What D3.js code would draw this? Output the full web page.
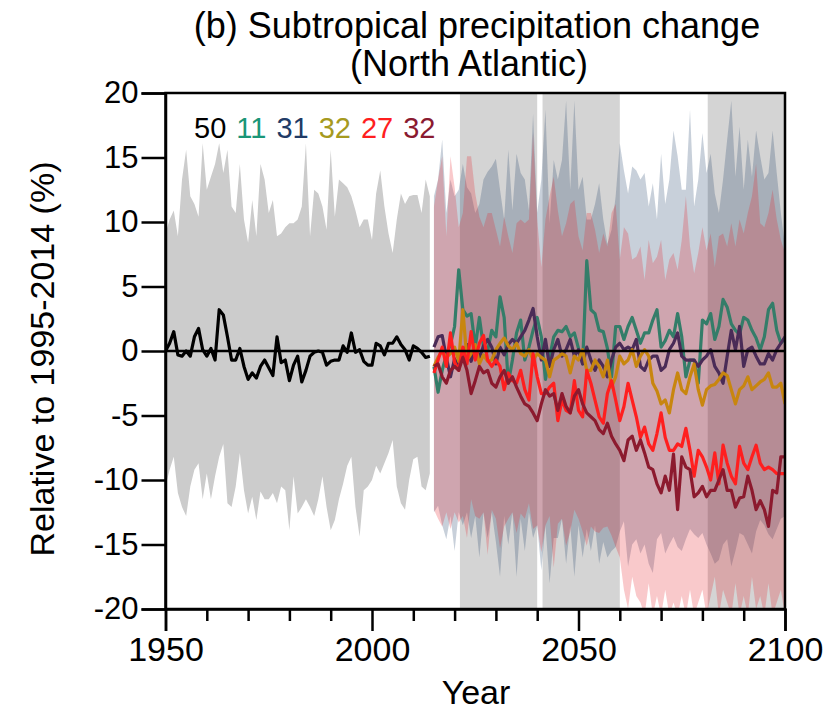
<!DOCTYPE html>
<html><head><meta charset="utf-8">
<script src="https://cdn.jsdelivr.net/npm/d3@7"></script>
<style>
body{margin:0;background:#fff}
text{font-family:"Liberation Sans",Arial,Helvetica,sans-serif}
</style>
</head><body>
<svg id="c" width="839" height="712"></svg>
<script>
const histYears = d3.range(1950, 2015);
const futYears = d3.range(2015, 2101);

const histMean = [0.0,0.6,1.5,-0.3,-0.4,0.0,-0.4,1.1,1.75,0.1,
 -0.4,0.2,-0.7,3.2,2.8,1.1,-0.7,-0.7,0.2,-1.2,
 -2.2,-1.7,-2.1,-1.2,-0.7,-1.3,-1.9,1.1,-0.9,-0.7,
 -2.3,-1.1,-0.4,-2.4,-1.5,-0.4,-0.1,0.0,-0.1,-1.1,
 -0.8,-0.7,-0.7,0.4,-0.1,1.4,-0.1,0.1,-0.8,-1.1,
 -1.1,0.6,0.4,-0.3,0.6,0.6,1.1,0.5,0.1,-0.7,
 0.4,0.2,-0.1,-0.5,-0.4];
const histUpper = [9.1,10.2,10.9,8.9,13.3,15.6,12.0,11.4,10.4,16.1,
 12.5,13.5,14.5,16.1,13.8,15.6,11.2,10.7,14.5,10.2,
 8.4,11.7,8.9,14.5,13.3,10.7,11.7,8.9,9.1,9.6,
 9.9,9.9,10.2,11.2,16.1,8.9,12.5,12.2,11.2,9.4,
 15.6,10.4,13.3,13.0,12.7,12.0,10.9,9.6,10.2,10.2,
 8.6,12.2,14.0,11.2,9.1,7.6,10.2,12.2,11.4,12.0,
 12.1,12.1,10.7,13.3,12.0];
const histLower = [-10.5,-9.2,-8.2,-11.0,-12.1,-12.8,-10.5,-9.2,-8.7,-11.5,
 -9.5,-11.5,-9.7,-8.2,-7.2,-11.8,-12.1,-10.5,-7.9,-10.8,
 -12.6,-11.3,-13.1,-10.9,-11.5,-11.5,-11.0,-11.8,-10.5,-10.8,
 -13.9,-9.7,-12.6,-12.1,-11.5,-12.1,-12.8,-11.5,-9.7,-12.1,
 -13.9,-13.1,-11.5,-10.3,-8.9,-8.2,-12.1,-14.4,-10.8,-10.5,
 -10.0,-8.9,-9.5,-8.7,-7.9,-6.9,-10.5,-11.8,-12.3,-10.0,
 -8.4,-8.2,-10.5,-10.8,-9.5];

const ssp126Upper = [12.0,13.3,16.4,10.7,13.3,12.0,12.5,14.5,12.7,12.2,
 10.7,11.4,13.3,13.9,14.3,14.9,12.5,10.2,15.6,10.9,
 15.3,13.8,13.3,10.9,18.4,10.7,13.3,18.7,9.9,14.8,
 13.3,14.8,19.4,12.5,19.4,12.5,13.5,10.2,10.2,11.4,
 13.0,10.2,8.3,9.4,12.0,16.1,14.0,12.2,14.3,14.0,
 13.3,13.8,11.2,13.0,10.2,15.3,11.4,13.3,17.1,15.1,
 12.5,12.5,18.7,11.2,13.3,16.9,13.8,15.3,12.2,10.7,
 13.3,16.4,19.4,13.5,17.4,12.5,16.4,13.5,17.1,15.1,
 13.3,13.8,17.1,13.8,10.7,8.1];
const ssp126Lower = [-12.5,-12.0,-13.5,-14.6,-12.8,-15.5,-12.5,-13.5,-12.5,-14.5,
 -12.8,-16.0,-12.5,-14.5,-12.5,-14.8,-17.5,-12.8,-15.0,-12.5,
 -17.5,-13.0,-15.5,-12.5,-14.5,-13.5,-17.0,-13.5,-18.0,-14.5,
 -14.5,-13.0,-16.5,-13.5,-17.5,-13.5,-16.0,-13.8,-15.5,-13.5,
 -16.5,-14.8,-16.0,-15.5,-15.2,-14.0,-13.2,-16.7,-15.0,-14.6,
 -15.7,-15.0,-16.5,-17.2,-14.6,-14.1,-15.7,-15.0,-14.4,-15.2,
 -15.5,-14.6,-13.8,-14.2,-14.5,-14.1,-15.0,-15.7,-16.5,-16.2,
 -15.0,-14.6,-16.7,-15.5,-14.1,-14.3,-15.0,-15.7,-14.0,-13.1,
 -13.5,-14.2,-14.6,-13.8,-13.0,-12.8];
const ssp370Upper = [11.2,13.3,15.1,8.9,15.1,12.7,9.6,10.7,15.1,15.1,
 12.2,10.4,9.6,10.7,10.7,9.4,8.1,10.4,8.9,7.6,
 9.9,10.2,9.9,10.2,16.9,10.2,6.5,10.2,12.0,13.5,
 10.9,8.9,9.9,11.4,11.7,8.9,7.8,10.7,10.7,9.4,
 7.6,9.1,8.1,10.7,11.4,7.1,9.6,9.1,7.1,7.3,
 8.1,5.5,8.6,6.8,7.3,8.6,5.5,7.1,7.6,6.3,
 8.6,12.0,8.1,6.0,7.6,9.6,7.8,9.1,6.5,8.9,
 9.1,8.1,9.9,8.1,10.2,9.1,10.7,12.0,14.5,9.9,
 9.6,10.7,12.5,10.2,8.6,7.6];
const ssp370Lower = [-12.3,-13.0,-13.6,-12.5,-13.8,-12.5,-13.3,-12.8,-14.5,-11.5,
 -12.8,-13.0,-12.5,-15.8,-12.3,-13.0,-15.3,-13.6,-13.0,-12.5,
 -14.1,-12.6,-13.0,-11.8,-13.8,-13.5,-15.6,-13.5,-12.8,-16.8,
 -13.4,-13.0,-15.1,-14.0,-12.3,-13.0,-14.0,-15.1,-13.6,-14.0,
 -14.1,-13.7,-13.6,-14.3,-15.2,-16.0,-18.5,-20.0,-17.5,-19.0,
 -19.5,-20.5,-18.0,-20.5,-19.0,-20.5,-18.5,-20.5,-19.5,-20.5,
 -19.0,-20.5,-18.5,-20.5,-19.5,-18.5,-20.5,-19.0,-17.5,-20.5,
 -18.5,-19.5,-20.5,-18.0,-20.5,-19.0,-20.5,-17.5,-20.0,-19.0,
 -20.5,-18.0,-20.5,-19.5,-18.5,-20.5];

const ssp119 = [-1.2,-3.2,-1.5,-0.3,0.5,1.9,6.3,3.2,2.7,2.9,
 0.3,2.6,0.3,0.0,1.6,1.1,4.2,2.6,-2.5,-0.7,
 1.4,2.4,-0.7,0.3,1.6,2.6,1.1,-2.2,-0.5,1.1,
 1.6,1.5,1.9,1.1,1.4,0.2,-1.0,7.0,3.2,2.9,
 1.6,1.5,0.2,-2.0,1.9,1.9,0.9,1.9,2.6,1.6,
 0.6,1.4,1.4,2.4,3.2,0.3,0.8,1.6,1.1,2.9,
 1.1,-2.0,-0.7,-0.7,-2.5,2.4,2.1,2.9,0.9,1.9,
 4.0,3.4,2.1,1.6,1.3,2.6,2.4,1.6,1.0,0.1,
 1.1,3.2,3.7,1.6,0.6,1.0];
const ssp126 = [0.3,1.1,1.2,-0.5,-2.0,-0.6,-1.2,-0.3,0.5,-0.8,
 0.2,-0.5,0.4,0.9,0.3,-1.0,0.3,-0.3,0.5,0.9,
 0.6,1.1,1.6,2.4,3.3,1.1,-0.7,0.9,-1.2,0.1,
 0.9,-0.4,0.1,0.9,-0.4,0.1,-1.0,0.3,-0.7,-1.5,
 -0.7,-1.2,-2.0,-0.7,0.3,0.6,0.1,0.3,0.1,0.9,
 -1.2,-1.5,-0.7,-0.4,-0.4,-1.5,-1.2,0.1,0.6,1.4,
 -0.4,-0.7,-0.7,-0.7,-1.2,-0.7,-0.4,0.1,-1.2,-1.7,
 -2.5,-0.4,1.6,0.1,1.9,-1.2,0.1,0.3,-0.4,-1.0,
 -1.0,-0.2,-0.7,0.1,0.6,1.1];
const ssp245 = [-1.2,-0.5,0.0,-0.5,-0.2,0.3,-0.8,3.2,-0.7,-0.2,
 0.5,-1.0,-0.3,-0.8,-0.7,0.1,0.6,1.0,0.4,0.1,
 0.6,-0.2,-0.4,0.1,-0.7,-0.2,-0.5,-0.7,-2.0,-0.7,
 -0.5,-0.2,-0.4,-1.7,-0.4,-0.7,0.1,-1.5,-1.5,-0.7,
 -1.2,-2.0,-0.7,-2.8,-2.0,-0.4,-1.0,-0.7,0.1,-1.2,
 -0.4,0.1,-0.4,-2.5,-3.1,-4.1,-3.8,-4.8,-3.0,-1.7,
 -3.0,-3.3,-2.0,-1.0,-3.0,-4.2,-3.0,-2.7,-2.6,-2.2,
 -1.7,-1.9,-3.0,-4.1,-3.0,-2.7,-2.0,-3.0,-2.7,-2.4,
 -2.2,-1.7,-2.8,-2.8,-2.5,-4.1];
const ssp370 = [-1.7,-0.7,0.3,-1.2,1.4,-0.9,-1.5,0.3,-1.0,1.5,
 -0.7,0.6,1.2,-0.7,-1.2,-0.7,-1.2,-3.0,-1.7,-2.3,
 -2.5,-1.5,-3.0,-3.8,-0.2,-2.0,-3.3,-3.3,-2.8,-2.5,
 -5.4,-3.8,-4.6,-4.8,-2.3,-4.6,-5.1,-1.5,-2.5,-3.8,
 -5.1,-5.6,-3.3,-2.3,-3.8,-5.4,-4.3,-2.5,-3.8,-5.1,
 -6.7,-5.9,-7.2,-7.7,-6.4,-4.8,-6.7,-7.7,-7.7,-7.2,
 -7.4,-6.0,-7.7,-9.7,-7.7,-8.2,-9.0,-10.0,-7.9,-10.3,
 -7.3,-8.7,-9.7,-10.3,-7.4,-8.7,-9.2,-8.2,-7.3,-8.7,
 -9.2,-9.0,-9.2,-9.5,-9.5,-9.5];
const ssp585 = [-1.2,-1.0,-2.0,-2.5,-1.5,-1.2,-1.5,-0.5,-1.5,-3.3,
 -2.3,-1.2,-1.7,-1.5,-2.5,-2.8,-2.0,-1.5,-2.5,-2.0,
 -2.8,-3.5,-4.1,-4.3,-4.8,-5.4,-4.1,-3.0,-3.5,-3.3,
 -4.6,-3.3,-4.3,-4.8,-3.5,-3.0,-4.1,-4.8,-5.1,-5.4,
 -6.1,-6.4,-5.6,-6.6,-7.2,-7.7,-8.5,-6.9,-6.6,-7.7,
 -6.9,-7.9,-9.0,-9.2,-10.3,-11.0,-9.7,-10.8,-8.0,-12.3,
 -8.2,-9.0,-9.2,-11.3,-11.0,-10.5,-11.3,-10.8,-10.8,-10.0,
 -9.2,-10.8,-10.8,-12.1,-11.4,-11.3,-9.7,-10.8,-12.3,-11.6,
 -12.3,-13.6,-10.8,-11.0,-8.2,-8.2];

const modelCounts = ["50","11","31","32","27","32"];
const countColors = ["#000000","#1b9677","#213b66","#a69a1f","#ff1f1f","#8a1a30"];
const lineColors = {ssp119:"#347d69", ssp126:"#4a2b57", ssp245:"#c8860f", ssp370:"#ff1f1f", ssp585:"#8c1a2e"};
const yTicks = [-20,-15,-10,-5,0,5,10,15,20];
const xMajor = [1950,2000,2050,2100];
const xMinor = [1960,1970,1980,1990,2010,2020,2030,2040,2060,2070,2080,2090];
const periods = [[2021,2040],[2041,2060],[2081,2100]];

const svg = d3.select("#c");
const L = 165.5, R = 785, T = 93, B = 609;
const x = d3.scaleLinear().domain([1950,2100]).range([L,R]);
const y = d3.scaleLinear().domain([-20,20]).range([B,T]);

svg.append("defs").append("clipPath").attr("id","pc")
  .append("rect").attr("x",L).attr("y",T).attr("width",R-L).attr("height",B-T);
const g = svg.append("g").attr("clip-path","url(#pc)");

// assessment periods
g.selectAll("rect.band").data(periods).enter().append("rect")
  .attr("x", d => x(d[0]) + 1.2).attr("width", d => x(d[1]) - x(d[0]) - 1.2)
  .attr("y", T).attr("height", B-T).attr("fill","#d4d4d4");

const area = (yrs, lo, hi) => d3.area()
  .x((d,i) => x(yrs[i])).y0((d,i) => y(lo[i])).y1((d,i) => y(hi[i]))(yrs);

g.append("path").attr("d", area(histYears, histLower, histUpper)).attr("fill","#cccccc");
g.append("path").attr("d", area(futYears, ssp126Lower, ssp126Upper)).attr("fill","rgb(23,60,102)").attr("fill-opacity",0.24);
g.append("path").attr("d", area(futYears, ssp370Lower, ssp370Upper)).attr("fill","rgb(231,29,37)").attr("fill-opacity",0.24);

const line = (yrs, vals) => d3.line().x((d,i) => x(yrs[i])).y((d,i) => y(vals[i]))(yrs);
const futSeries = [["ssp119",ssp119],["ssp126",ssp126],["ssp245",ssp245],["ssp370",ssp370],["ssp585",ssp585]];
futSeries.forEach(([k,v]) => {
  g.append("path").attr("d", line(futYears, v)).attr("fill","none")
   .attr("stroke", lineColors[k]).attr("stroke-width",3.2).attr("stroke-linejoin","round");
});
g.append("path").attr("d", line(histYears, histMean)).attr("fill","none")
  .attr("stroke","#000").attr("stroke-width",3.2).attr("stroke-linejoin","round");

// zero line
svg.append("line").attr("x1",L).attr("x2",R).attr("y1",y(0)).attr("y2",y(0))
  .attr("stroke","#000").attr("stroke-width",2.5);

// axes
const ya = svg.append("g").attr("transform",`translate(${L},0)`)
  .call(d3.axisLeft(y).tickValues(yTicks).tickSize(24).tickPadding(3).tickFormat(d => String(d)));
const xa = svg.append("g").attr("transform",`translate(0,${B})`)
  .call(d3.axisBottom(x).tickValues(xMajor).tickSize(22).tickPadding(6).tickFormat(d => String(d)));
const xm = svg.append("g").attr("transform",`translate(0,${B})`)
  .call(d3.axisBottom(x).tickValues(xMinor).tickSize(12).tickFormat(""));
[ya,xa,xm].forEach(a => {
  a.selectAll("path.domain").attr("stroke","#000").attr("stroke-width",2.5);
  a.selectAll(".tick line").attr("stroke","#000").attr("stroke-width",2.5);
  a.selectAll("text").attr("fill","#000")
   .style("font-family",'"Liberation Sans",Arial,sans-serif');
});
ya.selectAll("text").style("font-size","31px");
xa.selectAll("text").style("font-size","34px");
xm.select("path.domain").remove();
// box
svg.append("rect").attr("x",L).attr("y",T).attr("width",R-L).attr("height",B-T)
  .attr("fill","none").attr("stroke","#000").attr("stroke-width",2.5);

// titles
svg.append("text").attr("x",477).attr("y",38).attr("text-anchor","middle")
  .style("font-size","36px").text("(b) Subtropical precipitation change");
svg.append("text").attr("x",469).attr("y",76).attr("text-anchor","middle")
  .style("font-size","36px").text("(North Atlantic)");
svg.append("text").attr("x",476).attr("y",704).attr("text-anchor","middle")
  .style("font-size","34px").text("Year");
svg.append("text").attr("transform","translate(54,359) rotate(-90)").attr("text-anchor","middle")
  .style("font-size","34px").text("Relative to 1995-2014 (%)");

// model counts
let cx = 194;
modelCounts.forEach((t,i) => {
  const tx = svg.append("text").attr("x",cx).attr("y",138).style("font-size","29px")
    .attr("fill",countColors[i]).text(t);
  cx += tx.node().getComputedTextLength() + 10;
});
</script>
</body></html>
